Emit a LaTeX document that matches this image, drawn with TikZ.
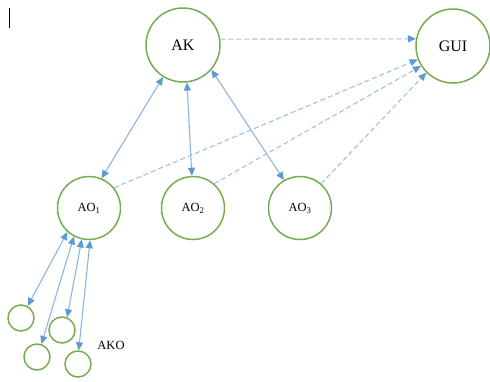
\documentclass[tikz,border=0pt]{standalone}
\usepackage{fontspec}
\setmainfont{Liberation Serif}
\usetikzlibrary{arrows.meta}
\definecolor{cgreen}{HTML}{77AC55}
\definecolor{lblue}{HTML}{8DB5E2}
\definecolor{dblue}{HTML}{9FC2E8}
\definecolor{tipblue}{HTML}{5B9BD5}
\tikzset{
  >={Triangle[length=8pt,width=7pt,color=tipblue]},
  bignode/.style={circle,draw=cgreen,line width=1.5pt,minimum size=74pt,inner sep=0pt,font=\fontsize{16}{16}\selectfont},
  midnode/.style={circle,draw=cgreen,line width=1.5pt,minimum size=63pt,inner sep=0pt,font=\fontsize{12.5}{13}\selectfont},
  smallnode/.style={circle,draw=cgreen,line width=1.5pt,minimum size=26pt,inner sep=0pt},
  both/.style={draw=lblue,line width=1.1pt,<->},
  dashto/.style={draw=dblue,line width=1.1pt,dash pattern=on 5pt off 3pt,->}
}
\begin{document}
\begin{tikzpicture}[x=1pt,y=-1pt]
\useasboundingbox (0,0) rectangle (490,381);
\fill[white] (0,0) rectangle (490,381);
\draw[black,line width=1pt] (9.5,8) -- (9.5,28);
\node[bignode] (ak) at (183,45) {AK};
\node[bignode] (gui) at (453,46) {GUI};
\node[midnode] (ao1) at (89,208) {AO\textsubscript{1}};
\node[midnode] (ao2) at (193,208) {AO\textsubscript{2}};
\node[midnode] (ao3) at (300,208) {AO\textsubscript{3}};
\node[smallnode] (c1) at (21,318) {};
\node[smallnode] (c2) at (37,357) {};
\node[smallnode] (c3) at (62,330) {};
\node[smallnode] (c4) at (78,364) {};
\node[font=\fontsize{12.5}{13}\selectfont] (ako) at (111,345) {AKO};
% solid double arrows
\draw[both] (ak.-122) -- (ao1.67);
\draw[both] (ak.-84) -- (ao2.92);
\draw[both] (ak.-41) -- (ao3.120);
\draw[both] (ao1.-132) -- (c1.61);
\draw[both] (ao1.-118) -- (c2.71);
\draw[both] (ao1.-103) -- (c3.68);
\draw[both] (ao1.-88) -- (c4.87);
% dashed arrows to GUI
\draw[dashto] (ak.9) -- (gui.169);
\draw[dashto] (ao1.39) -- (gui.-159);
\draw[dashto] (ao2.49) -- (gui.-148);
\draw[dashto] (ao3.49) -- (gui.-135);
\end{tikzpicture}
\end{document}
